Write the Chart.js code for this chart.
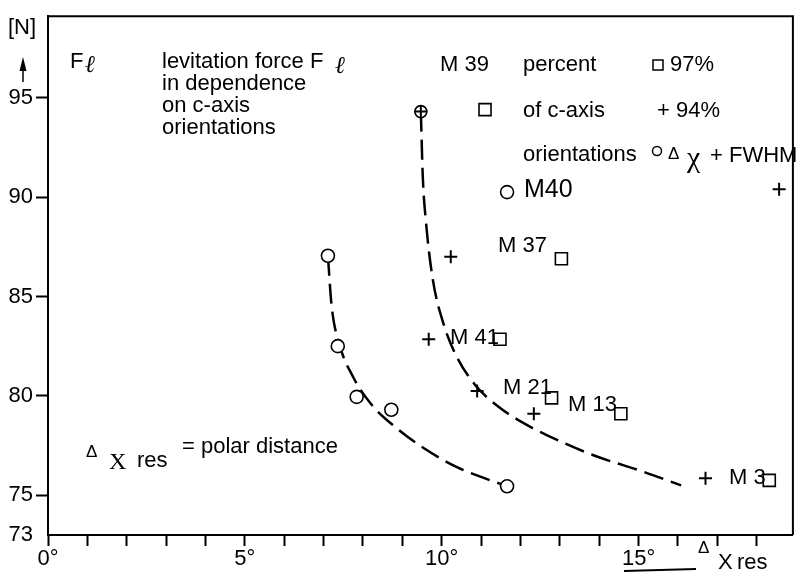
<!DOCTYPE html>
<html>
<head>
<meta charset="utf-8">
<script src="https://cdn.jsdelivr.net/npm/chart.js@4.4.1/dist/chart.umd.min.js"></script>
<style>
  html, body { margin: 0; padding: 0; background: #fff; }
  canvas { display: block; }
</style>
</head>
<body>
<canvas id="chart" width="803" height="572"></canvas>
<script>
// ---- values ----
// circles: delta-chi FWHM (last one is the circle of the M39 "plus in circle")
const fwhmX = [7.11, 7.36, 7.84, 8.72, 11.66, 11.66, 9.47];
const fwhmY = [87.05, 82.5, 79.95, 79.3, 75.45, 90.25, 94.3];
const fwhmR = [6.5, 6.5, 6.5, 6.5, 6.5, 6.5, 6];

// crosses: 94 % of c-axis orientations
const p94X = [9.47, 10.23, 9.67, 10.9, 12.34, 16.7, 18.57];
const p94Y = [94.3, 87.0, 82.85, 80.25, 79.1, 75.85, 90.4];

// squares: 97 % of c-axis orientations
const p97X = [11.1, 13.04, 11.48, 12.79, 14.55, 18.32];
const p97Y = [94.4, 86.9, 82.85, 79.9, 79.1, 75.75];

// dashed guide curves
const leftCurveX = [7.11, 7.2, 7.4, 7.75, 8.2, 8.84, 9.6, 10.4, 11.1, 11.66];
const leftCurveY = [87.05, 84.6, 82.6, 80.95, 79.6, 78.4, 77.3, 76.4, 75.85, 75.45];
const rightCurveX = [9.47, 9.52, 9.6, 9.77, 10.05, 10.4, 10.85, 11.41, 12.06, 12.86, 13.87, 15.1, 16.08];
const rightCurveY = [94.3, 91.0, 88.75, 85.9, 83.6, 81.9, 80.55, 79.5, 78.65, 77.85, 77.0, 76.2, 75.5];

// axes
const xTicks = [0, 1, 2, 3, 4, 5, 6, 7, 8, 9, 10, 11, 12, 13, 14, 15, 16, 17, 18];
const xTickLabels = ["0°", "", "", "", "", "5°", "", "", "", "", "10°", "", "", "", "", "15°", "", "", ""];
const yTicks = [73, 75, 80, 85, 90, 95];
const yTickLabels = ["73", "75", "80", "85", "90", "95"];

const SANS = '"Liberation Sans", Arial, Helvetica, sans-serif';
const SERIF = '"Liberation Serif", "DejaVu Serif", serif';

function toPoints(xs, ys) {
  return xs.map((x, i) => ({ x: x, y: ys[i] }));
}

// frame on top / right
const framePlugin = {
  id: "frame",
  afterDraw(chart) {
    const { ctx, chartArea: a } = chart;
    ctx.save();
    ctx.strokeStyle = "#000";
    ctx.lineWidth = 2;
    ctx.beginPath();
    ctx.moveTo(a.left, a.top);
    ctx.lineTo(a.right, a.top);
    ctx.lineTo(a.right, a.bottom);
    ctx.stroke();
    ctx.restore();
  }
};

// all the lettering of the figure
const textPlugin = {
  id: "texts",
  afterDraw(chart) {
    const ctx = chart.ctx;
    ctx.save();
    ctx.fillStyle = "#000";
    ctx.strokeStyle = "#000";
    ctx.textBaseline = "middle";
    ctx.textAlign = "left";

    function txt(s, x, y, size, family, style) {
      ctx.font = (style || "") + " " + size + "px " + (family || SANS);
      ctx.fillText(s, x, y);
    }

    // y unit + arrow
    txt("[N]", 8, 28, 22);
    ctx.lineWidth = 1.5;
    ctx.beginPath();
    ctx.moveTo(23, 82);
    ctx.lineTo(23, 68);
    ctx.stroke();
    ctx.beginPath();
    ctx.moveTo(23, 57);
    ctx.lineTo(19.5, 71);
    ctx.lineTo(26.5, 71);
    ctx.closePath();
    ctx.fill();

    txt("F", 70, 62, 22);
    txt("ℓ", 85, 66, 24, SERIF, "italic");

    txt("levitation force F", 162, 62, 22);
    txt("ℓ", 335, 67, 24, SERIF, "italic");
    txt("in dependence", 162, 84, 22);
    txt("on c-axis", 162, 106, 22);
    txt("orientations", 162, 128, 22);

    // legend block
    txt("M 39", 440, 65, 22);
    txt("percent", 523, 65, 22);
    ctx.lineWidth = 1.5;
    ctx.strokeRect(653, 60, 10, 10);
    txt("97%", 670, 65, 22);
    txt("of c-axis", 523, 111, 22);
    txt("+ 94%", 657, 111, 22);
    txt("orientations", 523, 155, 22);
    ctx.beginPath();
    ctx.arc(657, 151, 4.5, 0, Math.PI * 2);
    ctx.stroke();
    txt("Δ", 668, 154, 17);
    txt("χ", 687, 159, 30, SERIF);
    txt("+ FWHM", 710, 156, 22);

    // sample labels
    txt("M40", 524, 190, 25);
    txt("M 37", 498, 246, 22);
    txt("M 41", 450, 338, 22);
    txt("M 21", 503, 388, 22);
    txt("M 13", 568, 405, 22);
    txt("M 3", 729, 478, 22);

    // polar distance note
    txt("Δ", 86, 452, 17);
    txt("Χ", 109, 463, 24, SERIF);
    txt("res", 137, 461, 22);
    txt("= polar distance", 182, 447, 22);

    // x axis title
    txt("Δ", 698, 548, 17);
    txt("X", 718, 563, 22);
    txt("res", 737, 563, 22);
    ctx.lineWidth = 2;
    ctx.beginPath();
    ctx.moveTo(624, 571);
    ctx.lineTo(696, 569);
    ctx.stroke();

    ctx.restore();
  }
};

new Chart(document.getElementById("chart"), {
  type: "scatter",
  data: {
    datasets: [
      {
        label: "94 %",
        data: toPoints(p94X, p94Y),
        pointStyle: "cross",
        pointRadius: 6.5,
        pointBorderWidth: 2,
        borderColor: "#000",
        showLine: false
      },
      {
        label: "FWHM",
        data: toPoints(fwhmX, fwhmY),
        pointStyle: "circle",
        pointRadius: fwhmR,
        pointBorderWidth: 1.6,
        borderColor: "#000",
        backgroundColor: "#fff",
        showLine: false
      },
      {
        label: "97 %",
        data: toPoints(p97X, p97Y),
        pointStyle: "rect",
        pointRadius: 8.5,
        pointBorderWidth: 1.6,
        borderColor: "#000",
        backgroundColor: "#fff",
        showLine: false
      },
      {
        label: "curve FWHM",
        data: toPoints(leftCurveX, leftCurveY),
        showLine: true,
        pointRadius: 0,
        borderColor: "#000",
        borderWidth: 2.5,
        borderDash: [20, 8],
        cubicInterpolationMode: "monotone"
      },
      {
        label: "curve 94 %",
        data: toPoints(rightCurveX, rightCurveY),
        showLine: true,
        pointRadius: 0,
        borderColor: "#000",
        borderWidth: 2.5,
        borderDash: [20, 8],
        cubicInterpolationMode: "monotone"
      }
    ]
  },
  options: {
    responsive: false,
    animation: false,
    devicePixelRatio: 1,
    events: [],
    layout: { padding: { top: 13, right: 2, left: 0, bottom: 0 } },
    plugins: {
      legend: { display: false },
      tooltip: { enabled: false }
    },
    scales: {
      x: {
        type: "linear",
        min: 0,
        max: 18.92,
        afterBuildTicks: s => { s.ticks = xTicks.map(v => ({ value: v })); },
        afterFit: s => { s.height = 37; },
        ticks: {
          callback: (v, i) => xTickLabels[i],
          autoSkip: false,
          maxRotation: 0,
          padding: 0,
          color: "#000",
          font: { family: SANS, size: 22 }
        },
        grid: {
          drawOnChartArea: false,
          drawTicks: true,
          tickLength: 11,
          tickWidth: 2,
          tickColor: "#000"
        },
        border: { display: true, color: "#000", width: 2 }
      },
      y: {
        type: "linear",
        min: 73,
        max: 99.1,
        afterBuildTicks: s => { s.ticks = yTicks.map(v => ({ value: v })); },
        afterFit: s => { s.width = 48; },
        ticks: {
          callback: (v, i) => yTickLabels[i],
          autoSkip: false,
          padding: 3,
          color: "#000",
          font: { family: SANS, size: 22 }
        },
        grid: {
          drawOnChartArea: false,
          drawTicks: true,
          tickLength: 12,
          tickWidth: 2,
          tickColor: c => (c.tick && c.tick.value === 73 ? "rgba(0,0,0,0)" : "#000")
        },
        border: { display: true, color: "#000", width: 2 }
      }
    }
  },
  plugins: [framePlugin, textPlugin]
});
</script>
</body>
</html>
